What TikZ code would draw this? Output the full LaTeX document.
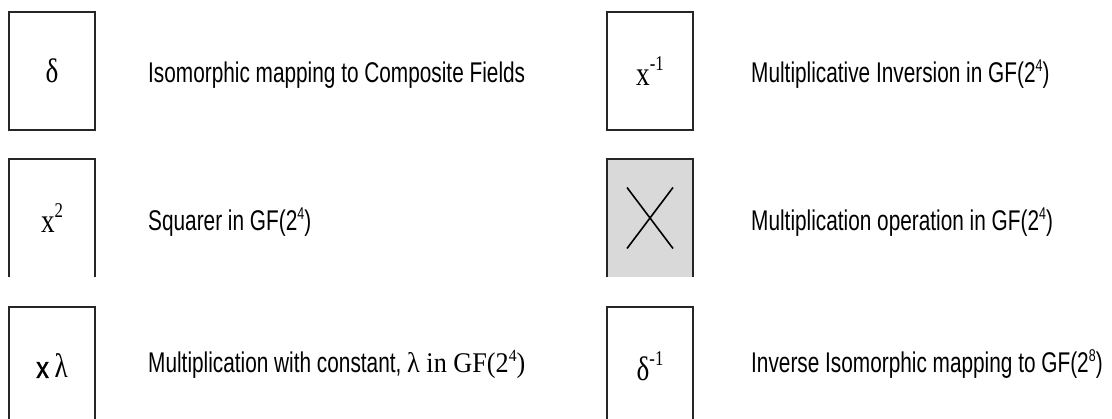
\documentclass[tikz,border=0pt]{standalone}
\usepackage{fontspec}
\usetikzlibrary{calc}
\newfontfamily\lab[FakeStretch=0.73]{Liberation Sans}
\newfontfamily\labx[FakeStretch=0.85,FakeBold=1.2]{Liberation Sans}
\newfontfamily\sym[FakeStretch=0.8]{Liberation Serif}
\newfontfamily\symtext[FakeStretch=0.92]{Liberation Serif}
\newcommand\sups[1]{\raisebox{0.45em}{\fontsize{21}{21}\selectfont #1}}
\newcommand\lsups[1]{\raisebox{0.42em}{\fontsize{17}{17}\selectfont #1}}
\begin{document}
\begin{tikzpicture}[x=1pt,y=-1pt,
  symbox/.style={minimum width=86pt, minimum height=118pt, inner sep=0pt, outer sep=0pt,
    font=\sym\fontsize{34}{36}\selectfont},
  frame/.style={draw=black!85, line width=1.4pt},
  desc/.style={anchor=base west, inner sep=0pt, font=\lab\fontsize{28.5}{30}\selectfont},
  cross/.style={draw=black, line width=1.6pt}]
\useasboundingbox (0,0) rectangle (1112,419);
% left column
\node[symbox,frame] (d) at (52,71) {δ};
\node[symbox] (sq) at (52,218) {x\sups{2}};
\draw[frame] (sq.south west) -- (sq.north west) -- (sq.north east) -- (sq.south east);
\node[symbox] (ml) at (52,366) {{\labx\fontsize{30}{32}\selectfont x}\,λ};
\draw[frame] (ml.south west) -- (ml.north west) -- (ml.north east) -- (ml.south east);
% right column
\node[symbox,frame] (inv) at (650,71) {x\sups{-1}};
\node[symbox,fill=black!15] (mul) at (650,218) {};
\draw[frame] (mul.south west) -- (mul.north west) -- (mul.north east) -- (mul.south east);
\draw[cross] ($(mul.center)+(-23,-30.5)$) -- ($(mul.center)+(23,30.5)$);
\draw[cross] ($(mul.center)+(23,-30.5)$) -- ($(mul.center)+(-23,30.5)$);
\node[symbox] (di) at (650,366) {δ\sups{-1}};
\draw[frame] (di.south west) -- (di.north west) -- (di.north east) -- (di.south east);
% descriptions
\node[desc] (t1) at (148,83) {Isomorphic mapping to Composite Fields};
\node[desc] (t2) at (148,231) {Squarer in GF(2\lsups{4})};
\node[desc] (t3) at (148,373) {Multiplication with constant, {\symtext\fontsize{28.5}{30}\selectfont λ in GF(2\lsups{4})}};
\node[desc] (t4) at (751,83) {Multiplicative Inversion in GF(2\lsups{4})};
\node[desc] (t5) at (751,231) {Multiplication operation in GF(2\lsups{4})};
\node[desc] (t6) at (751,373) {Inverse Isomorphic mapping to GF(2\lsups{8})};
\end{tikzpicture}
\end{document}
